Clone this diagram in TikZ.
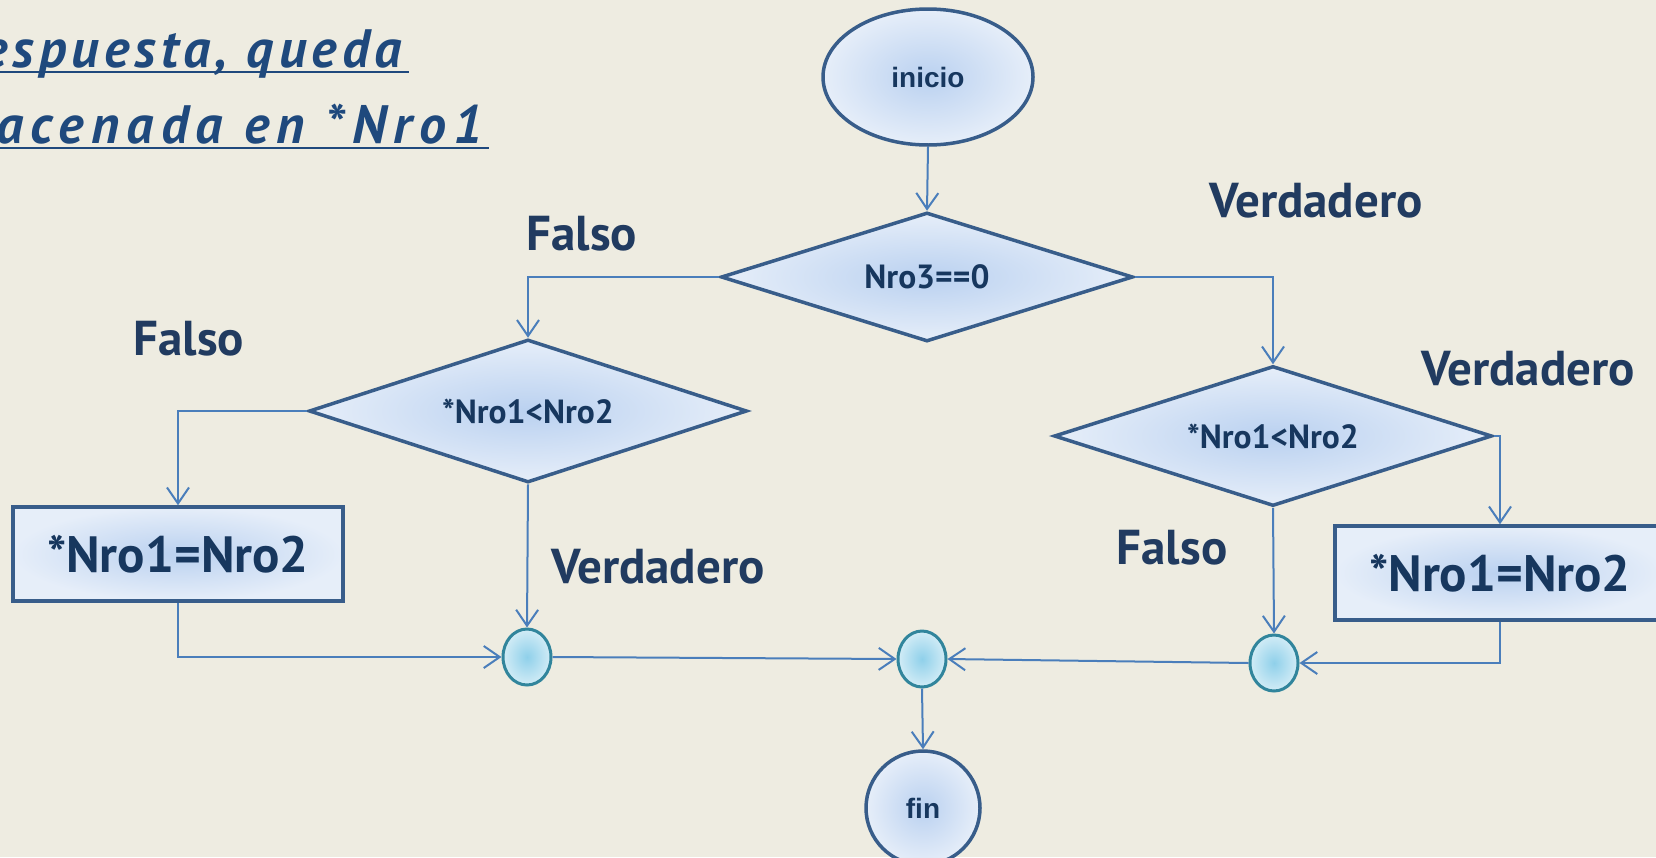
\documentclass[tikz,border=0pt]{standalone}
\usepackage{fontspec}
\setmainfont{PT Sans}
\newfontfamily\arialfont{Liberation Sans}
\newfontfamily\titlefont{PT Sans}[LetterSpace=13.5]
\usetikzlibrary{shapes.geometric,arrows.meta}

\definecolor{bgtan}{HTML}{EEECE1}
\definecolor{shapeline}{HTML}{385D8A}
\definecolor{flowline}{HTML}{4A7EBB}
\definecolor{fillin}{HTML}{BAD1F0}
\definecolor{fillout}{HTML}{E6EEF9}
\definecolor{nodetext}{HTML}{17375E}
\definecolor{labeltext}{HTML}{213B60}
\definecolor{titletext}{HTML}{1F497D}
\definecolor{joinline}{HTML}{31859C}
\definecolor{joinin}{HTML}{8FD0EA}
\definecolor{joinout}{HTML}{D2ECF6}

\tikzset{
  shapebox/.style={draw=shapeline, line width=3.5pt, inner color=fillin, outer color=fillout,
    text=nodetext, font=\bfseries, inner sep=0pt},
  decision/.style={shapebox, diamond, aspect=3, font=\fontsize{33.5}{38}\selectfont\bfseries},
  process/.style={shapebox, rectangle, minimum width=330pt, minimum height=94pt,
    font=\fontsize{51}{56}\selectfont\bfseries},
  terminal/.style={shapebox, ellipse, font=\fontsize{28}{32}\selectfont\arialfont\bfseries},
  joint/.style={draw=joinline, line width=3pt, ellipse, inner color=joinin, outer color=joinout,
    minimum width=48pt, minimum height=56pt, inner sep=0pt},
  flow/.style={draw=flowline, line width=2pt, -{Straight Barb[length=16pt,width=22pt,line width=2pt]}},
  branch/.style={text=labeltext, font=\fontsize{49}{54}\selectfont\bfseries, inner sep=0pt},
  heading/.style={text=titletext, font=\fontsize{54}{60}\selectfont\titlefont\bfseries\itshape, inner sep=0pt}
}

\begin{document}
\begin{tikzpicture}[x=1pt, y=-1pt]
  \useasboundingbox (0,0) rectangle (1656,857);
  \clip (0,0) rectangle (1656,857);
  \fill[bgtan] (0,0) rectangle (1656,857);

  % heading fragment with underlines
  \node[heading, anchor=base east] (t1) at (402,67) {\addfontfeature{LetterSpace=9.5}espuesta, queda};
  \node[heading, anchor=base east] (t2) at (483,143) {acenada en *Nro1};
  \draw[titletext, line width=2.8pt] ([yshift=-5pt]t1.base west) -- ([xshift=7pt,yshift=-5pt]t1.base east);
  \draw[titletext, line width=2.8pt] ([yshift=-5pt]t2.base west) -- ([xshift=6pt,yshift=-5pt]t2.base east);

  % shapes
  \node[terminal, minimum width=210pt, minimum height=136pt] (ini) at (928,77) {inicio};
  \node[decision, minimum width=412pt, minimum height=129pt] (d1) at (927,277) {Nro3==0};
  \node[decision, minimum width=438pt, minimum height=143pt] (dl) at (528,411) {*Nro1<Nro2};
  \node[decision, minimum width=438pt, minimum height=140pt] (dr) at (1273,436) {*Nro1<Nro2};
  \node[process] (rl) at (178,554) {*Nro1=Nro2};
  \node[process] (rr) at (1500,573) {*Nro1=Nro2};
  \node[joint] (c1) at (527,657) {};
  \node[joint] (c2) at (922,659) {};
  \node[joint] (c3) at (1274,663) {};
  \node[terminal, circle, minimum size=114pt] (fin) at (923,808) {fin};

  % connectors
  \draw[flow] (ini.south) -- (d1.north);
  \draw[flow] (d1.west) -| (dl.north);
  \draw[flow] (d1.east) -| (dr.north);
  \draw[flow] (dl.west) -| (rl.north);
  \draw[flow] (dr.east) -| (rr.north);
  \draw[flow] (dl.south) -- (c1.north);
  \draw[flow] (rl.south) |- (c1.west);
  \draw[flow] (c1.east) -- (c2.west);
  \draw[flow] (dr.south) -- (c3.north);
  \draw[flow] (rr.south) |- (c3.east);
  \draw[flow] (c3.west) -- (c2.east);
  \draw[flow] (c2.south) -- (fin.north);

  % branch labels
  \node[branch] (lf1) at (582,234) {Falso};
  \node[branch] (lv1) at (1316,201) {Verdadero};
  \node[branch] (lf2) at (189,339) {Falso};
  \node[branch] (lv2) at (1528,369) {Verdadero};
  \node[branch] (lv3) at (658,567) {Verdadero};
  \node[branch] (lf3) at (1172,548) {Falso};
\end{tikzpicture}
\end{document}
